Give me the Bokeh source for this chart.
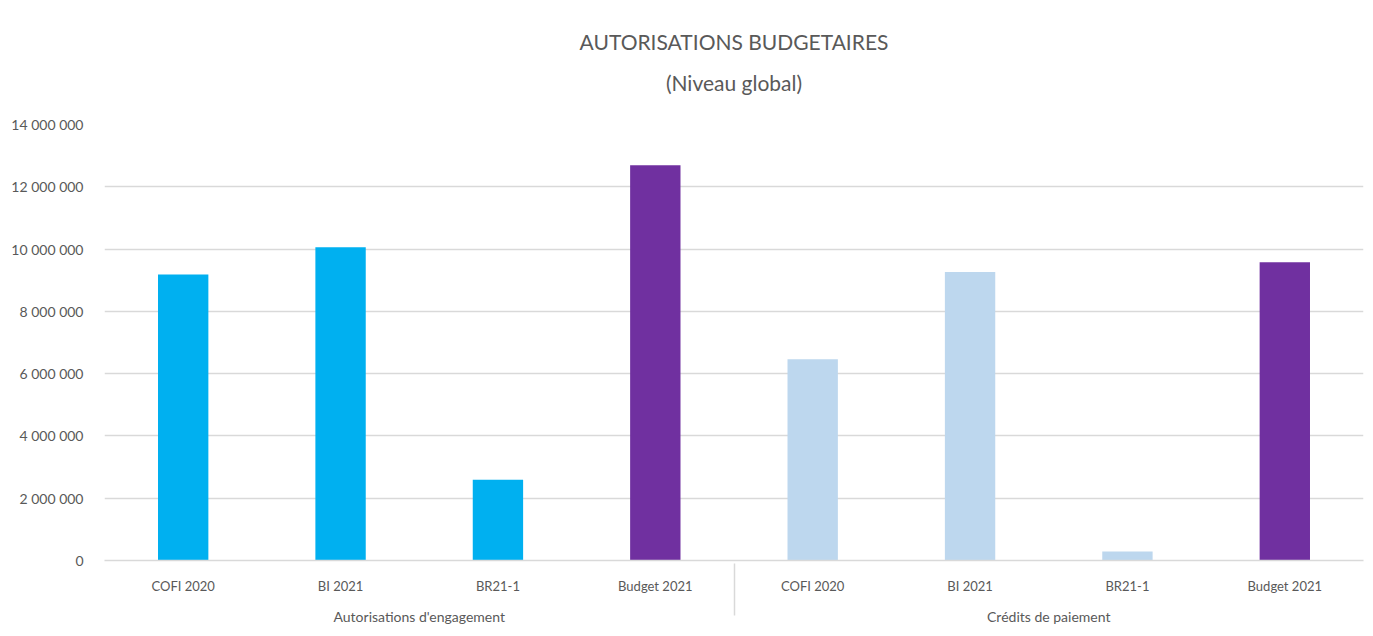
from bokeh.plotting import figure
from bokeh.models import FactorRange, ColumnDataSource, CustomJSTickFormatter, Title, Range1d
from bokeh.embed import file_html
from bokeh.resources import INLINE

groups = ["Autorisations d'engagement", "Crédits de paiement"]
categories = ["COFI 2020", "BI 2021", "BR21-1", "Budget 2021"]
ae_values = [9180000, 10060000, 2590000, 12690000]
cp_values = [6460000, 9260000, 290000, 9580000]
y_ticks = [0, 2000000, 4000000, 6000000, 8000000, 10000000, 12000000, 14000000]

FONT = "Lato"
TXT = "#595959"
GRID = "#D9D9D9"

factors = [(g, c) for g in groups for c in categories]
values = ae_values + cp_values
colors = ["#00B0F0", "#00B0F0", "#00B0F0", "#7030A0",
          "#BDD7EE", "#BDD7EE", "#BDD7EE", "#7030A0"]
src = ColumnDataSource(dict(x=factors, top=values, color=colors))

p = figure(width=1373, height=636, output_backend="svg", toolbar_location=None,
           x_range=FactorRange(*factors, range_padding=0, factor_padding=0, group_padding=0),
           y_range=Range1d(0, 14000000),
           min_border_left=104, min_border_right=10, min_border_top=124, min_border_bottom=76)

p.vbar(x="x", top="top", width=0.32, fill_color="color", line_color=None, source=src)

sub = Title(text="(Niveau global)", align="center", text_font=FONT, text_font_size="21px",
            text_color=TXT, text_font_style="normal", standoff=59)
main = Title(text="AUTORISATIONS BUDGETAIRES", align="center", text_font=FONT,
             text_font_size="21px", text_color=TXT, text_font_style="normal", standoff=-30)
p.add_layout(sub, "above")
p.add_layout(main, "above")

p.outline_line_color = None
p.xgrid.grid_line_color = None
p.ygrid.grid_line_color = GRID
p.ygrid.grid_line_width = 1.5

p.yaxis.ticker = y_ticks
p.yaxis.formatter = CustomJSTickFormatter(code="return tick.toFixed(0).replace(/\\B(?=(\\d{3})+(?!\\d))/g, ' ');")
p.yaxis.axis_line_color = None
p.yaxis.major_tick_line_color = None
p.yaxis.minor_tick_line_color = None
p.yaxis.major_label_standoff = 15
p.yaxis.major_label_text_font = FONT
p.yaxis.major_label_text_font_size = "14px"
p.yaxis.major_label_text_color = TXT

xa = p.xaxis[0]
xa.axis_line_color = GRID
xa.axis_line_width = 1.5
xa.major_tick_line_color = None
xa.minor_tick_line_color = None
xa.major_label_text_font = FONT
xa.major_label_text_font_size = "13px"
xa.major_label_text_color = TXT
xa.major_label_standoff = 11
xa.group_text_font = FONT
xa.group_text_font_size = "14px"
xa.group_text_font_style = "normal"
xa.group_text_color = TXT
xa.separator_line_color = GRID
xa.separator_line_width = 1.5

open("out.html", "w").write(file_html(p, INLINE))
